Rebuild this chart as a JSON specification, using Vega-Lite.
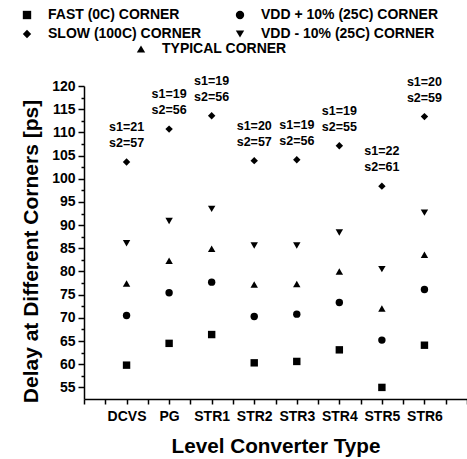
{
  "$schema": "https://vega.github.io/schema/vega-lite/v6.json",
  "width": 383,
  "height": 313,
  "autosize": "none",
  "padding": {"left": 84, "top": 86, "right": 0, "bottom": 60},
  "background": "white",
  "config": {
    "view": {"stroke": null},
    "font": "Liberation Sans",
    "legend": {
      "labelFont": "Liberation Sans",
      "labelFontWeight": "bold",
      "labelFontSize": 14,
      "labelColor": "black",
      "labelLimit": 400,
      "symbolSize": 70,
      "symbolFillColor": "black",
      "symbolStrokeColor": "black",
      "symbolStrokeWidth": 0,
      "labelOffset": 14,
      "padding": 0,
      "rowPadding": 5,
      "columnPadding": 31,
      "title": null
    }
  },
  "datasets": {
    "points": [
      {"type": "DCVS", "n": 1, "corner": "FAST (0C) CORNER", "delay": 59.8},
      {"type": "DCVS", "n": 1, "corner": "VDD + 10% (25C) CORNER", "delay": 70.5},
      {"type": "DCVS", "n": 1, "corner": "SLOW (100C) CORNER", "delay": 103.6},
      {"type": "DCVS", "n": 1, "corner": "VDD - 10% (25C) CORNER", "delay": 86.1},
      {"type": "DCVS", "n": 1, "corner": "TYPICAL CORNER", "delay": 77.4},
      {"type": "PG", "n": 2, "corner": "FAST (0C) CORNER", "delay": 64.5},
      {"type": "PG", "n": 2, "corner": "VDD + 10% (25C) CORNER", "delay": 75.4},
      {"type": "PG", "n": 2, "corner": "SLOW (100C) CORNER", "delay": 110.7},
      {"type": "PG", "n": 2, "corner": "VDD - 10% (25C) CORNER", "delay": 90.9},
      {"type": "PG", "n": 2, "corner": "TYPICAL CORNER", "delay": 82.3},
      {"type": "STR1", "n": 3, "corner": "FAST (0C) CORNER", "delay": 66.4},
      {"type": "STR1", "n": 3, "corner": "VDD + 10% (25C) CORNER", "delay": 77.7},
      {"type": "STR1", "n": 3, "corner": "SLOW (100C) CORNER", "delay": 113.6},
      {"type": "STR1", "n": 3, "corner": "VDD - 10% (25C) CORNER", "delay": 93.5},
      {"type": "STR1", "n": 3, "corner": "TYPICAL CORNER", "delay": 84.9},
      {"type": "STR2", "n": 4, "corner": "FAST (0C) CORNER", "delay": 60.3},
      {"type": "STR2", "n": 4, "corner": "VDD + 10% (25C) CORNER", "delay": 70.3},
      {"type": "STR2", "n": 4, "corner": "SLOW (100C) CORNER", "delay": 103.9},
      {"type": "STR2", "n": 4, "corner": "VDD - 10% (25C) CORNER", "delay": 85.6},
      {"type": "STR2", "n": 4, "corner": "TYPICAL CORNER", "delay": 77.2},
      {"type": "STR3", "n": 5, "corner": "FAST (0C) CORNER", "delay": 60.6},
      {"type": "STR3", "n": 5, "corner": "VDD + 10% (25C) CORNER", "delay": 70.8},
      {"type": "STR3", "n": 5, "corner": "SLOW (100C) CORNER", "delay": 104.1},
      {"type": "STR3", "n": 5, "corner": "VDD - 10% (25C) CORNER", "delay": 85.6},
      {"type": "STR3", "n": 5, "corner": "TYPICAL CORNER", "delay": 77.3},
      {"type": "STR4", "n": 6, "corner": "FAST (0C) CORNER", "delay": 63.1},
      {"type": "STR4", "n": 6, "corner": "VDD + 10% (25C) CORNER", "delay": 73.3},
      {"type": "STR4", "n": 6, "corner": "SLOW (100C) CORNER", "delay": 107.1},
      {"type": "STR4", "n": 6, "corner": "VDD - 10% (25C) CORNER", "delay": 88.4},
      {"type": "STR4", "n": 6, "corner": "TYPICAL CORNER", "delay": 80.0},
      {"type": "STR5", "n": 7, "corner": "FAST (0C) CORNER", "delay": 55.0},
      {"type": "STR5", "n": 7, "corner": "VDD + 10% (25C) CORNER", "delay": 65.2},
      {"type": "STR5", "n": 7, "corner": "SLOW (100C) CORNER", "delay": 98.4},
      {"type": "STR5", "n": 7, "corner": "VDD - 10% (25C) CORNER", "delay": 80.5},
      {"type": "STR5", "n": 7, "corner": "TYPICAL CORNER", "delay": 72.0},
      {"type": "STR6", "n": 8, "corner": "FAST (0C) CORNER", "delay": 64.1},
      {"type": "STR6", "n": 8, "corner": "VDD + 10% (25C) CORNER", "delay": 76.1},
      {"type": "STR6", "n": 8, "corner": "SLOW (100C) CORNER", "delay": 113.4},
      {"type": "STR6", "n": 8, "corner": "VDD - 10% (25C) CORNER", "delay": 92.7},
      {"type": "STR6", "n": 8, "corner": "TYPICAL CORNER", "delay": 83.6}
    ],
    "notes": [
      {"type": "DCVS", "s1": "s1=21", "s2": "s2=57"},
      {"type": "PG", "s1": "s1=19", "s2": "s2=56"},
      {"type": "STR1", "s1": "s1=19", "s2": "s2=56"},
      {"type": "STR2", "s1": "s1=20", "s2": "s2=57"},
      {"type": "STR3", "s1": "s1=19", "s2": "s2=56"},
      {"type": "STR4", "s1": "s1=19", "s2": "s2=55"},
      {"type": "STR5", "s1": "s1=22", "s2": "s2=61"},
      {"type": "STR6", "s1": "s1=20", "s2": "s2=59"}
    ]
  },
  "encoding": {
    "x": {
      "field": "n",
      "type": "quantitative",
      "scale": {"domain": [0, 9], "nice": false, "zero": false},
      "axis": {
        "values": [0, 0.5, 1, 1.5, 2, 2.5, 3, 3.5, 4, 4.5, 5, 5.5, 6, 6.5, 7, 7.5, 8, 8.5, 9],
        "labelExpr": "datum.value % 1 === 0 ? ['','DCVS','PG','STR1','STR2','STR3','STR4','STR5','STR6',''][datum.value] : ''",
        "grid": false,
        "domainColor": "black",
        "domainWidth": 1.5,
        "tickColor": "black",
        "tickWidth": 1.5,
        "tickSize": 5,
        "labelFont": "Liberation Sans",
        "labelFontWeight": "bold",
        "labelFontSize": 14,
        "labelColor": "black",
        "labelPadding": 5,
        "labelFlush": false,
        "labelOverlap": false,
        "title": "Level Converter Type",
        "titleFont": "Liberation Sans",
        "titleFontWeight": "bold",
        "titleFontSize": 20.7,
        "titleColor": "black",
        "titlePadding": 13
      }
    },
    "y": {
      "field": "delay",
      "type": "quantitative",
      "scale": {"domain": [52.5, 120], "nice": false, "zero": false},
      "axis": {
        "values": [55, 57.5, 60, 62.5, 65, 67.5, 70, 72.5, 75, 77.5, 80, 82.5, 85, 87.5, 90, 92.5, 95, 97.5, 100, 102.5, 105, 107.5, 110, 112.5, 115, 117.5, 120],
        "labelExpr": "datum.value % 5 === 0 ? datum.label : ''",
        "grid": false,
        "domainColor": "black",
        "domainWidth": 1.5,
        "tickColor": "black",
        "tickWidth": 1.5,
        "tickSize": {"condition": {"test": "datum.value % 5 === 0", "value": 6}, "value": 3},
        "labelFont": "Liberation Sans",
        "labelFontWeight": "bold",
        "labelFontSize": 14,
        "labelColor": "black",
        "labelPadding": 3,
        "labelOverlap": false,
        "title": "Delay at Different Corners [ps]",
        "titleFont": "Liberation Sans",
        "titleFontWeight": "bold",
        "titleFontSize": 21,
        "titleColor": "black",
        "titlePadding": 10,
        "titleY": 165
      }
    }
  },
  "layer": [
    {
      "data": {"name": "points"},
      "transform": [{"filter": "datum.corner !== 'TYPICAL CORNER'"}],
      "mark": {"type": "point", "filled": true, "opacity": 1, "color": "black", "size": 55},
      "encoding": {
        "shape": {
          "field": "corner",
          "type": "nominal",
          "scale": {
            "domain": ["FAST (0C) CORNER", "VDD + 10% (25C) CORNER", "SLOW (100C) CORNER", "VDD - 10% (25C) CORNER"],
            "range": ["square", "circle", "diamond", "triangle-down"]
          },
          "legend": {"orient": "none", "legendX": -64, "legendY": -78, "columns": 2, "direction": "horizontal"}
        }
      }
    },
    {
      "data": {"name": "points"},
      "transform": [{"filter": "datum.corner === 'TYPICAL CORNER'"}],
      "mark": {"type": "point", "filled": true, "opacity": 1, "color": "black", "size": 55},
      "encoding": {
        "shape": {
          "field": "corner",
          "type": "nominal",
          "scale": {"domain": ["TYPICAL CORNER"], "range": ["triangle-up"]},
          "legend": {"orient": "none", "legendX": 50, "legendY": -44}
        }
      }
    },
    {
      "data": {"name": "points"},
      "transform": [
        {"filter": "datum.corner === 'SLOW (100C) CORNER'"},
        {"lookup": "type", "from": {"data": {"name": "notes"}, "key": "type", "fields": ["s1", "s2"]}}
      ],
      "mark": {"type": "text", "font": "Liberation Sans", "fontWeight": "bold", "fontSize": 12.5, "color": "black", "baseline": "middle", "dy": -35, "clip": false},
      "encoding": {"text": {"field": "s1"}}
    },
    {
      "data": {"name": "points"},
      "transform": [
        {"filter": "datum.corner === 'SLOW (100C) CORNER'"},
        {"lookup": "type", "from": {"data": {"name": "notes"}, "key": "type", "fields": ["s1", "s2"]}}
      ],
      "mark": {"type": "text", "font": "Liberation Sans", "fontWeight": "bold", "fontSize": 12.5, "color": "black", "baseline": "middle", "dy": -19, "clip": false},
      "encoding": {"text": {"field": "s2"}}
    }
  ],
  "resolve": {"scale": {"shape": "independent"}}
}
